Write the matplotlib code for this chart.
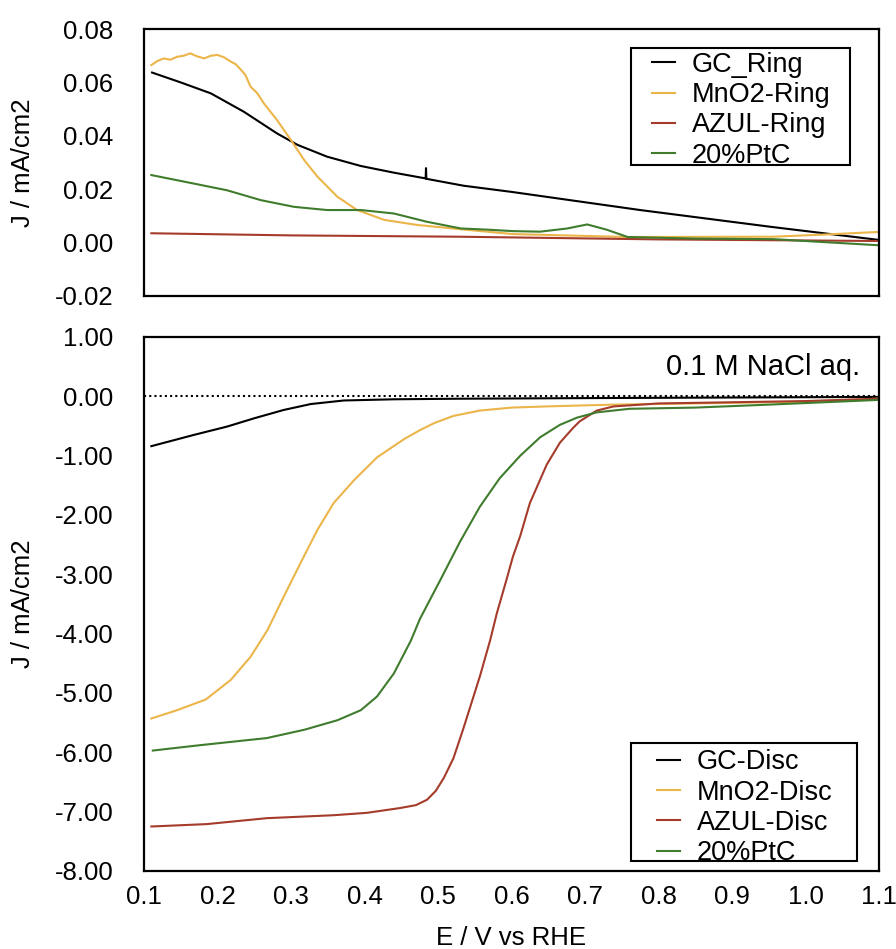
import matplotlib
matplotlib.use("Agg")
import matplotlib.pyplot as plt
from matplotlib.ticker import FormatStrFormatter
from matplotlib.patches import Rectangle

plt.rcParams['font.family'] = ['Liberation Sans', 'DejaVu Sans']
plt.rcParams['axes.unicode_minus'] = False

# ---- datos del anillo (panel superior) ----
gc_ring_E = [0.111, 0.15, 0.191, 0.236, 0.281, 0.309, 0.349, 0.395, 0.440, 0.482,
             0.4832, 0.4837, 0.4842, 0.535, 0.6, 0.775, 0.956, 1.1]
gc_ring_J = [0.0637, 0.0600, 0.0559, 0.0490, 0.0409, 0.0366, 0.0322, 0.0287, 0.0262, 0.0241,
             0.0240, 0.0279, 0.0239, 0.0213, 0.0190, 0.0122, 0.0058, 0.0010]

mno2_ring_E = [0.110, 0.118, 0.127, 0.136, 0.145, 0.154, 0.163, 0.172, 0.182, 0.191, 0.200,
               0.209, 0.218, 0.225, 0.232, 0.238, 0.245, 0.254, 0.263, 0.281, 0.300, 0.318,
               0.336, 0.363, 0.390, 0.427, 0.472, 0.531, 0.602, 0.758, 0.956, 1.024, 1.1]
mno2_ring_J = [0.0665, 0.0680, 0.0690, 0.0685, 0.0696, 0.0700, 0.0709, 0.0698, 0.0690, 0.0700, 0.0703,
               0.0694, 0.0678, 0.0668, 0.0647, 0.0628, 0.0584, 0.0560, 0.0522, 0.0459, 0.0384, 0.0309,
               0.0247, 0.0172, 0.0122, 0.0085, 0.0066, 0.0050, 0.0032, 0.0021, 0.0022, 0.0030, 0.0040]

azul_ring_E = [0.11, 0.3, 0.531, 0.8, 1.1]
azul_ring_J = [0.0035, 0.0027, 0.0022, 0.0012, 0.0006]

ptc_ring_E = [0.110, 0.168, 0.213, 0.259, 0.304, 0.349, 0.395, 0.440, 0.485, 0.531, 0.571,
              0.602, 0.639, 0.676, 0.703, 0.730, 0.758, 0.85, 0.956, 1.1]
ptc_ring_J = [0.0253, 0.0221, 0.0196, 0.0159, 0.0134, 0.0122, 0.0122, 0.0109, 0.0078, 0.0053, 0.0048,
              0.0043, 0.0041, 0.0053, 0.0068, 0.0048, 0.0021, 0.0015, 0.0013, -0.0010]

# ---- datos del disco (panel inferior) ----
gc_disc_E = [0.110, 0.168, 0.213, 0.250, 0.290, 0.327, 0.372, 0.440, 0.531, 0.7, 0.9, 1.1]
gc_disc_J = [-0.84, -0.65, -0.51, -0.37, -0.23, -0.13, -0.07, -0.05, -0.04, -0.03, -0.02, -0.01]

mno2_disc_E = [0.110, 0.145, 0.184, 0.218, 0.245, 0.268, 0.290, 0.313, 0.336, 0.358, 0.386, 0.417,
               0.454, 0.4755, 0.495, 0.521, 0.557, 0.60, 0.648, 0.738, 0.85, 1.0, 1.1]
mno2_disc_J = [-5.43, -5.29, -5.11, -4.78, -4.39, -3.94, -3.38, -2.81, -2.25, -1.80, -1.41, -1.03,
               -0.72, -0.57, -0.45, -0.33, -0.24, -0.19, -0.17, -0.14, -0.12, -0.09, -0.04]

azul_disc_E = [0.110, 0.185, 0.267, 0.358, 0.403, 0.448, 0.470, 0.485, 0.497, 0.508, 0.521, 0.534,
               0.557, 0.571, 0.580, 0.593, 0.602, 0.612, 0.625, 0.648, 0.666, 0.684, 0.693, 0.716,
               0.739, 0.8, 0.9, 1.0, 1.1]
azul_disc_J = [-7.25, -7.21, -7.11, -7.06, -7.02, -6.94, -6.89, -6.80, -6.65, -6.43, -6.10, -5.62,
               -4.72, -4.11, -3.66, -3.10, -2.70, -2.35, -1.80, -1.15, -0.78, -0.53, -0.42, -0.24,
               -0.17, -0.12, -0.10, -0.08, -0.04]

ptc_disc_E = [0.112, 0.176, 0.267, 0.318, 0.363, 0.395, 0.417, 0.440, 0.463, 0.4755, 0.503, 0.530,
              0.557, 0.584, 0.612, 0.639, 0.666, 0.689, 0.716, 0.761, 0.85, 0.95, 1.1]
ptc_disc_J = [-5.97, -5.88, -5.76, -5.62, -5.46, -5.29, -5.06, -4.67, -4.12, -3.75, -3.10, -2.45,
              -1.86, -1.38, -1.00, -0.69, -0.48, -0.36, -0.27, -0.21, -0.19, -0.14, -0.06]

negro = 'black'
oro = '#ECB54A'
rojo = '#A53B2B'
verde = '#3F7C2D'

fig = plt.figure(figsize=(8.96, 9.49), dpi=100)
ax1 = fig.add_axes([0.1607, 0.6881, 0.8203, 0.2813])
ax2 = fig.add_axes([0.1607, 0.0822, 0.8203, 0.5627])

lw = 1.5
ax1.plot(gc_ring_E, gc_ring_J, color=negro, lw=lw, label='GC_Ring')
ax1.plot(mno2_ring_E, mno2_ring_J, color=oro, lw=lw, label='MnO2-Ring')
ax1.plot(azul_ring_E, azul_ring_J, color=rojo, lw=lw, label='AZUL-Ring')
ax1.plot(ptc_ring_E, ptc_ring_J, color=verde, lw=lw, label='20%PtC')

ax2.axhline(0, color='black', lw=1.5, ls=(0, (1, 1.5)))
ax2.plot(gc_disc_E, gc_disc_J, color=negro, lw=lw, label='GC-Disc')
ax2.plot(mno2_disc_E, mno2_disc_J, color=oro, lw=lw, label='MnO2-Disc')
ax2.plot(azul_disc_E, azul_disc_J, color=rojo, lw=lw, label='AZUL-Disc')
ax2.plot(ptc_disc_E, ptc_disc_J, color=verde, lw=lw, label='20%PtC')

ax1.set_xlim(0.1, 1.1)
ax1.set_ylim(-0.02, 0.08)
ax1.set_yticks([-0.02, 0.0, 0.02, 0.04, 0.06, 0.08])
ax1.yaxis.set_major_formatter(FormatStrFormatter('%.2f'))
ax1.set_xticks([])

ax2.set_xlim(0.1, 1.1)
ax2.set_ylim(-8, 1)
ax2.set_yticks(range(-8, 2))
ax2.yaxis.set_major_formatter(FormatStrFormatter('%.2f'))
ax2.set_xticks([0.1, 0.2, 0.3, 0.4, 0.5, 0.6, 0.7, 0.8, 0.9, 1.0, 1.1])
ax2.xaxis.set_major_formatter(FormatStrFormatter('%.1f'))

fs = 18.5
for ax in (ax1, ax2):
    for s in ax.spines.values():
        s.set_linewidth(1.6)
    ax.tick_params(axis='y', length=0, pad=22, labelsize=fs)
    ax.tick_params(axis='x', length=0, pad=10, labelsize=fs)
    ax.set_ylabel('J / mA/cm2', fontsize=fs)
    ax.yaxis.set_label_coords(-0.148, 0.5)

ax2.set_xlabel('E / V vs RHE', fontsize=fs, labelpad=12)

ax2.text(0.974, 0.944, '0.1 M NaCl aq.', transform=ax2.transAxes,
         ha='right', va='center', fontsize=21)

# leyendas sin marco propio; el marco se dibuja aparte
opts = dict(fontsize=19.5, frameon=False, handlelength=0.85, handletextpad=0.63,
            labelspacing=0.16, borderpad=0, borderaxespad=0, loc='upper left')
l1 = ax1.legend(bbox_to_anchor=(0.6912, 0.915), **opts)
l2 = ax2.legend(bbox_to_anchor=(0.698, 0.228), **opts)
l1.set_zorder(6)
l2.set_zorder(6)
ax1.add_patch(Rectangle((0.6626, 0.4906), 0.2979, 0.4382, transform=ax1.transAxes,
                        facecolor='white', edgecolor='black', lw=1.5, zorder=5))
ax2.add_patch(Rectangle((0.6626, 0.0187), 0.3075, 0.2210, transform=ax2.transAxes,
                        facecolor='white', edgecolor='black', lw=1.5, zorder=5))

fig.savefig('out.png', dpi=100)
